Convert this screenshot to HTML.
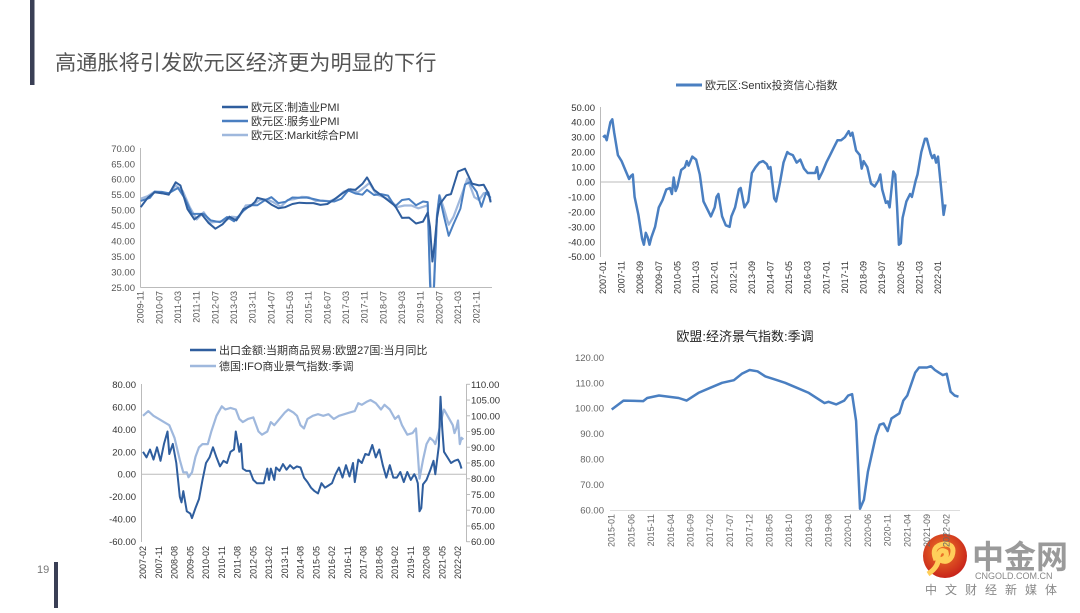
<!DOCTYPE html>
<html><head><meta charset="utf-8">
<style>
html,body{margin:0;padding:0;background:#fff;}
body{width:1080px;height:608px;position:relative;overflow:hidden;font-family:"Liberation Sans","Noto Sans CJK SC",sans-serif;}
svg text{font-family:"Liberation Sans","Noto Sans CJK SC",sans-serif;}
</style></head>
<body>
<svg id="s" width="1080" height="608" viewBox="0 0 1080 608" xmlns="http://www.w3.org/2000/svg">
<defs>
<clipPath id="clip1"><rect x="140" y="140" width="360" height="147.5"/></clipPath>
<radialGradient id="lg" cx="45%" cy="40%" r="60%"><stop offset="0" stop-color="#f07a2a"/><stop offset="1" stop-color="#c8241a"/></radialGradient>
</defs>
<rect x="30" y="0" width="4.5" height="85" fill="#3a3f55"/>
<text x="55" y="70" font-size="21.2" fill="#555">高通胀将引发欧元区经济更为明显的下行</text>
<rect x="54" y="562" width="4" height="46" fill="#3a3f55"/>
<text x="37" y="573" font-size="11" fill="#777">19</text>
<g>
<circle cx="945" cy="556" r="22" fill="url(#lg)"/>
<path d="M936 560 q-6 -14 8 -16 q12 0 8 12 q-4 8 -12 4 q8 -2 6 -8 q-6 -4 -8 4 q2 10 -10 18" fill="none" stroke="#ffcf5a" stroke-width="5"/>
<text x="972" y="568" font-size="32" fill="#9a9a9a" font-weight="bold">中金网</text>
<text x="975" y="579" font-size="9" fill="#888">CNGOLD.COM.CN</text>
<text x="925" y="594" font-size="12" fill="#888" letter-spacing="8">中文财经新媒体</text>
</g>
<g id="charts"></g>
</svg>
<script>
const c1Ticks = ["2009-11","2010-07","2011-03","2011-11","2012-07","2013-03","2013-11","2014-07","2015-03","2015-11","2016-07","2017-03","2017-11","2018-07","2019-03","2019-11","2020-07","2021-03","2021-11"];
const c1YTicks = [70,65,60,55,50,45,40,35,30,25];
const c1MfgDates = ["2009-11","2010-02","2010-05","2010-08","2010-11","2011-02","2011-04","2011-07","2011-10","2012-01","2012-04","2012-07","2012-10","2013-01","2013-04","2013-07","2013-10","2013-12","2014-01","2014-04","2014-07","2014-10","2015-01","2015-04","2015-07","2015-10","2016-01","2016-04","2016-07","2016-10","2017-01","2017-04","2017-07","2017-10","2017-12","2018-03","2018-06","2018-09","2018-12","2019-03","2019-06","2019-09","2019-12","2020-02","2020-03","2020-04","2020-05","2020-06","2020-07","2020-10","2020-12","2021-03","2021-06","2021-09","2021-12","2022-02","2022-04","2022-05"];
const c1Mfg = [51,54,55.8,55.5,55,59,58,50.4,47,48.8,45.9,44,45.4,47.9,46.7,50.3,51.3,52.7,54,53.4,51.8,50.6,51,52,52.4,52.3,52.3,51.7,52,53.5,55.2,56.7,56.6,58.5,60.6,56.6,54.9,53.2,51.4,47.5,47.6,45.7,46.3,49.2,44.5,33.4,39.4,47.4,51.8,54.8,55.2,62.5,63.4,58.6,58,58.2,55.5,52.5];
const c1SvcDates = ["2009-11","2010-03","2010-05","2010-08","2010-11","2011-03","2011-06","2011-09","2011-12","2012-02","2012-05","2012-09","2012-12","2013-03","2013-07","2013-10","2014-01","2014-04","2014-07","2014-10","2015-01","2015-04","2015-07","2015-10","2016-01","2016-04","2016-07","2016-10","2017-01","2017-04","2017-07","2017-10","2017-12","2018-03","2018-06","2018-09","2018-12","2019-03","2019-06","2019-09","2019-12","2020-02","2020-03","2020-04","2020-05","2020-06","2020-07","2020-09","2020-11","2021-01","2021-04","2021-06","2021-08","2021-11","2022-01","2022-03","2022-05"];
const c1Svc = [53,54,56,55.9,55.5,57.2,53.7,48.8,48.8,48.8,46.7,46.1,47.8,46.4,49.8,51.6,51.6,53.1,54.2,52.3,52.7,54.1,54,54.1,53.6,53.1,52.9,52.8,53.7,56.4,55.4,55,56.6,54.9,55.2,54.7,51.2,53.3,53.6,51.6,52.8,52.6,26.4,12,30.5,48.3,54.7,48,41.7,45.4,50.5,58.3,59,55.9,51.1,55.6,54];
const c1CmpDates = ["2009-11","2010-02","2010-05","2010-08","2010-11","2011-02","2011-05","2011-08","2011-11","2012-02","2012-05","2012-08","2012-11","2013-02","2013-05","2013-08","2013-11","2014-02","2014-05","2014-08","2014-11","2015-02","2015-05","2015-08","2015-11","2016-02","2016-05","2016-08","2016-11","2017-02","2017-05","2017-08","2017-11","2018-01","2018-04","2018-07","2018-10","2019-01","2019-04","2019-07","2019-10","2020-01","2020-02","2020-03","2020-04","2020-05","2020-06","2020-07","2020-09","2020-11","2021-01","2021-04","2021-07","2021-10","2021-12","2022-02","2022-04","2022-05"];
const c1Cmp = [53.7,54.5,56,55.5,55.2,58,56.2,51,47,49.3,46,46.3,46.5,47.9,47.7,51.5,51.7,53.3,53.5,52.5,51.1,53.3,53.6,54.3,54.2,53,53.1,52.9,53.9,56,56.8,55.7,57.5,58.8,55.1,54.3,53.1,51,51.5,51.5,50.6,51.3,51.6,29.7,13.6,31.9,48.5,54.9,50.4,45.3,47.8,53.8,60.2,54.2,53.3,55.5,55.8,53];
const c2Ticks = ["2007-01","2007-11","2008-09","2009-07","2010-05","2011-03","2012-01","2012-11","2013-09","2014-07","2015-05","2016-03","2017-01","2017-11","2018-09","2019-07","2020-05","2021-03","2022-01"];
const c2YTicks = [50,40,30,20,10,0,-10,-20,-30,-40,-50];
const c2Dates = ["2007-01","2007-02","2007-03","2007-05","2007-06","2007-07","2007-09","2007-11","2008-01","2008-03","2008-04","2008-05","2008-06","2008-08","2008-10","2008-11","2008-12","2009-01","2009-02","2009-03","2009-05","2009-07","2009-09","2009-11","2010-01","2010-02","2010-03","2010-04","2010-05","2010-07","2010-09","2010-10","2010-11","2011-01","2011-03","2011-05","2011-07","2011-09","2011-11","2012-01","2012-02","2012-03","2012-05","2012-07","2012-09","2012-10","2012-12","2013-02","2013-03","2013-05","2013-07","2013-09","2013-11","2014-01","2014-03","2014-05","2014-06","2014-07","2014-09","2014-10","2014-12","2015-02","2015-04","2015-05","2015-07","2015-09","2015-11","2016-01","2016-03","2016-05","2016-07","2016-08","2016-09","2016-11","2017-01","2017-03","2017-05","2017-07","2017-09","2017-11","2018-01","2018-02","2018-03","2018-05","2018-07","2018-08","2018-09","2018-11","2019-01","2019-03","2019-05","2019-06","2019-07","2019-09","2019-10","2019-11","2020-01","2020-02","2020-03","2020-04","2020-05","2020-06","2020-08","2020-10","2020-11","2021-01","2021-02","2021-04","2021-06","2021-07","2021-09","2021-10","2021-11","2021-12","2022-01","2022-03","2022-04","2022-05"];
const c2Vals = [30,31,28,40,42,33,18,14,8,2,4,5,-10,-22,-38,-42,-34,-37,-42,-37,-30,-17,-12,-5,-4,-8,3,-6,-3,8,10,14,11,17,15,5,-13,-18,-23,-17,-10,-8,-23,-29,-30,-23,-17,-5,-4,-17,-13,6,10,13,14,12,9,10,-11,-13,-1,13,20,19,18,13,15,9,6,6,6,10,2,7,13,18,23,28,28,30,34,31,33,21,18,9,14,10,-1,-3,1,5,-5,-14,-13,-17,7,5,-17,-42,-41,-24,-13,-8,-10,1,5,20,29,29,19,16,18,13,17,-8,-22,-15];
const c3Ticks = ["2007-02","2007-11","2008-08","2009-05","2010-02","2010-11","2011-08","2012-05","2013-02","2013-11","2014-08","2015-05","2016-02","2016-11","2017-08","2018-05","2019-02","2019-11","2020-08","2021-05","2022-02"];
const c3LTicks = [80,60,40,20,0,-20,-40,-60];
const c3RTicks = [110,105,100,95,90,85,80,75,70,65,60];
const c3ExpDates = ["2007-02","2007-04","2007-06","2007-08","2007-10","2007-12","2008-02","2008-04","2008-05","2008-07","2008-09","2008-11","2008-12","2009-01","2009-03","2009-05","2009-06","2009-08","2009-10","2009-12","2010-02","2010-04","2010-06","2010-08","2010-10","2010-12","2011-02","2011-04","2011-06","2011-07","2011-09","2011-10","2011-11","2012-01","2012-03","2012-05","2012-07","2012-09","2012-11","2013-01","2013-02","2013-03","2013-05","2013-06","2013-08","2013-10","2013-12","2014-02","2014-04","2014-06","2014-08","2014-10","2014-12","2015-02","2015-04","2015-06","2015-08","2015-10","2015-12","2016-02","2016-04","2016-06","2016-08","2016-10","2016-12","2017-02","2017-03","2017-05","2017-07","2017-09","2017-11","2018-01","2018-03","2018-05","2018-07","2018-09","2018-11","2019-01","2019-03","2019-05","2019-07","2019-09","2019-11","2020-01","2020-02","2020-03","2020-04","2020-05","2020-06","2020-08","2020-10","2020-12","2021-01","2021-03","2021-04","2021-05","2021-06","2021-08","2021-10","2021-12","2022-02","2022-03","2022-04"];
const c3Exp = [20,15,22,13,24,12,27,38,18,27,10,-20,-25,-15,-33,-35,-39,-30,-22,-5,10,15,24,15,7,12,10,20,22,38,20,27,5,3,3,-5,-8,-8,-8,5,-5,5,-5,6,3,9,4,8,5,7,6,-3,-7,-12,-15,-17,-8,-12,-10,-8,0,6,-3,8,-2,10,-7,13,10,18,17,26,15,22,8,-3,8,-3,-3,2,-7,2,-5,0,-3,-8,-33,-30,-9,-5,3,12,0,25,69,40,20,15,10,12,13,10,5];
const c3IfoDates = ["2007-02","2007-05","2007-08","2007-11","2008-02","2008-05","2008-08","2008-11","2009-01","2009-03","2009-04","2009-06","2009-08","2009-10","2009-12","2010-03","2010-05","2010-08","2010-11","2011-01","2011-04","2011-07","2011-09","2011-11","2012-02","2012-05","2012-08","2012-10","2013-01","2013-03","2013-05","2013-08","2013-11","2014-01","2014-04","2014-06","2014-08","2014-10","2014-12","2015-03","2015-06","2015-09","2015-12","2016-03","2016-06","2016-09","2016-12","2017-03","2017-05","2017-07","2017-10","2017-12","2018-03","2018-06","2018-08","2018-11","2019-02","2019-04","2019-06","2019-09","2019-12","2020-02","2020-03","2020-04","2020-06","2020-08","2020-10","2020-12","2021-01","2021-03","2021-05","2021-06","2021-09","2021-11","2021-12","2022-01","2022-02","2022-03","2022-04","2022-05"];
const c3Ifo = [100,101.5,100,99,98,97,93,86,82,82,80.5,82,87,90,91,91,95,100,103,102,102.5,102,99,98,99,99.5,95,94,95,98,97,99,101,102,101,100,97,96,99,100,100.5,100,100.5,99,100,100.5,101,101.5,104,103.5,104.5,105,104,102,103.5,102,99,100,97,94,94.5,96,88,80,86,91,93,92,91,95,100,102,99,97,94.5,96,98.5,91,93,92.5];
const c4Ticks = ["2015-01","2015-06","2015-11","2016-04","2016-09","2017-02","2017-07","2017-12","2018-05","2018-10","2019-03","2019-08","2020-01","2020-06","2020-11","2021-04","2021-09","2022-02"];
const c4YTicks = [120,110,100,90,80,70,60];
const c4Dates = ["2015-01","2015-04","2015-09","2015-10","2016-01","2016-06","2016-08","2016-11","2017-02","2017-05","2017-08","2017-10","2017-12","2018-02","2018-04","2018-06","2018-09","2018-12","2019-03","2019-06","2019-07","2019-08","2019-10","2019-12","2020-01","2020-02","2020-03","2020-04","2020-05","2020-06","2020-08","2020-09","2020-10","2020-11","2020-12","2021-02","2021-03","2021-04","2021-06","2021-07","2021-09","2021-10","2021-11","2021-12","2022-01","2022-02","2022-03","2022-04","2022-05"];
const c4Vals = [99.5,103,102.8,104,105,104,103,106,108,110,111,113.5,115,114.5,112.5,111.5,110,108,106,103,102,102.5,101.5,103,105,105.5,95,60.5,64,75,89,93.5,94,91,96,98,103,105,114,116,116,116.5,115,114,113,113.5,106.5,105,104.5];

const NS = "http://www.w3.org/2000/svg";
const root = document.getElementById('charts');
function mi(d){const p=d.split('-');return (+p[0])*12+(+p[1])-1;}
function el(tag, attrs, parent){const e=document.createElementNS(NS,tag);for(const k in attrs)e.setAttribute(k,attrs[k]);(parent||root).appendChild(e);return e;}
function linear(d0,d1,r0,r1){return v=>r0+(v-d0)*(r1-r0)/(d1-d0);}
function drawLine(g,dates,vals,xf,yf,color,w,name,clip){
  const pts=dates.map((d,i)=>xf(mi(d)).toFixed(1)+','+yf(vals[i]).toFixed(1)).join(' ');
  const p=el('polyline',{points:pts,fill:'none',stroke:color,'stroke-width':w,'stroke-linejoin':'round'},g);
  if(clip)p.setAttribute('clip-path',clip);
  
  
}
function xLabels(g,ticks,xf,y,color){
  ticks.forEach(t=>{
    const x=xf(mi(t));
    const tx=el('text',{x:0,y:0,'font-size':9,fill:color,'text-anchor':'end',transform:`translate(${x+3},${y}) rotate(-90)`},g);
    tx.textContent=t;
    
    
  });
}
function yLabels(g,ticks,yf,x,anchor,color,size){
  ticks.forEach(t=>{
    const tx=el('text',{x:x,y:yf(t)+3.5,'font-size':size||10,fill:color,'text-anchor':anchor},g);
    tx.textContent=t.toFixed(2);
    
    
  });
}
function legend(g,x,y,color,w,label){
  const l=el('line',{x1:x,y1:y,x2:x+26,y2:y,stroke:color,'stroke-width':w},g);
  
  
  const t=el('text',{x:x+29,y:y+4,'font-size':11,fill:'#333'},g);
  t.textContent=label;
  
  
}
const DARK='#2f5e9e', MID='#4a7fc1', LIGHT='#9fb8dd', AX='#bbb';

{
  const g=el('g',{});
  
  
  const xf=linear(mi("2009-11"),mi("2021-11"),140.7,476.7);
  const yf=linear(25,70,287.5,148.3);
  el('line',{x1:140.5,y1:148,x2:140.5,y2:287.5,stroke:AX},g);
  el('line',{x1:140.5,y1:287.5,x2:492,y2:287.5,stroke:AX},g);
  yLabels(g,c1YTicks,yf,135,'end','#555',9.5);
  xLabels(g,c1Ticks,xf,291,'#555');
  drawLine(g,c1CmpDates,c1Cmp,xf,yf,LIGHT,2.2,'composite-pmi-line','url(#clip1)');
  drawLine(g,c1SvcDates,c1Svc,xf,yf,MID,2,'services-pmi-line','url(#clip1)');
  drawLine(g,c1MfgDates,c1Mfg,xf,yf,DARK,2,'manufacturing-pmi-line','url(#clip1)');
  legend(g,222,107,DARK,2.5,'欧元区:制造业PMI');
  legend(g,222,121,MID,2.5,'欧元区:服务业PMI');
  legend(g,222,135,LIGHT,2.5,'欧元区:Markit综合PMI');
}
{
  const g=el('g',{});
  
  
  const xf=linear(mi("2007-01"),mi("2022-01"),603,938);
  const yf=linear(-50,50,256.7,107.3);
  el('line',{x1:600.5,y1:107,x2:600.5,y2:257,stroke:AX},g);
  el('line',{x1:600.5,y1:yf(0),x2:947,y2:yf(0),stroke:AX},g);
  yLabels(g,c2YTicks,yf,595,'end','#333',9.5);
  xLabels(g,c2Ticks,xf,261,'#333');
  drawLine(g,c2Dates,c2Vals,xf,yf,MID,2.5,'sentix-line');
  legend(g,676,85,MID,3,'欧元区:Sentix投资信心指数');
}
{
  const g=el('g',{});
  
  
  const xf=linear(mi("2007-02"),mi("2022-02"),143,458);
  const yl=linear(-60,80,541.7,384.3);
  const yr=linear(60,110,541.7,384.3);
  el('line',{x1:141.5,y1:384,x2:141.5,y2:542,stroke:AX},g);
  el('line',{x1:466.5,y1:384,x2:466.5,y2:542,stroke:AX},g);
  c3RTicks.forEach(t=>el('line',{x1:466.5,y1:yr(t),x2:470,y2:yr(t),stroke:AX},g));
  el('line',{x1:141.5,y1:yl(0),x2:466.5,y2:yl(0),stroke:AX},g);
  yLabels(g,c3LTicks,yl,136,'end','#333',9.5);
  yLabels(g,c3RTicks,yr,471,'start','#333',9.5);
  xLabels(g,c3Ticks,xf,546,'#333');
  drawLine(g,c3IfoDates,c3Ifo,xf,yr,LIGHT,2.2,'ifo-line');
  drawLine(g,c3ExpDates,c3Exp,xf,yl,DARK,2,'exports-yoy-line');
  legend(g,190,350,DARK,2.5,'出口金额:当期商品贸易:欧盟27国:当月同比');
  legend(g,190,366,LIGHT,2.5,'德国:IFO商业景气指数:季调');
}
{
  const g=el('g',{});
  
  
  const xf=linear(mi("2015-01"),mi("2022-02"),611.7,946.7);
  const yf=linear(60,120,510,357.3);
  el('line',{x1:610,y1:510.5,x2:960,y2:510.5,stroke:'#ddd'},g);
  yLabels(g,c4YTicks,yf,604,'end','#666',9.5);
  xLabels(g,c4Ticks,xf,514,'#666');
  drawLine(g,c4Dates,c4Vals,xf,yf,MID,2.5,'esi-line');
  const t=el('text',{x:745,y:341,'font-size':13,fill:'#222','text-anchor':'middle'},g);
  t.textContent='欧盟:经济景气指数:季调';
  
  
}
</script>
</body></html>
